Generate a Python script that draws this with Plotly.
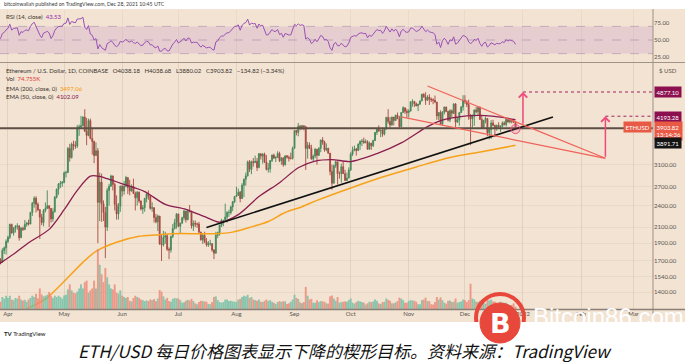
import numpy as np
import pandas as pd
import plotly.graph_objects as go

# ---------------- data ----------------
first_day = "2021-03-27"
last_day = "2021-12-28"

# closes before the visible window (only used to warm up the RSI)
warmup_close = [1570, 1490, 1575, 1540, 1530, 1655, 1725, 1835, 1870, 1795, 1825, 1770, 1925,
                1855, 1795, 1805, 1825, 1780, 1810, 1810, 1785, 1680, 1670, 1585, 1595, 1700]

close = [
    1715, 1690, 1815, 1845, 1920,
    1970, 2135, 2025, 2085, 2110, 2115, 1965, 2085, 2070, 2135, 2155, 2140, 2300, 2435, 2515,
    2420, 2340, 2235, 2160, 2330, 2360, 2400, 2360, 2210, 2310, 2530, 2660, 2750, 2760, 2775,
    2945, 2950, 3430, 3240, 3520, 3490, 3480, 3900, 3925, 3950, 4170, 3820, 3720, 4080, 3650,
    3580, 3280, 3380, 2450, 2780, 2430, 2300, 2100, 2640, 2710, 2890, 2740, 2420, 2280, 2390, 2710,
    2630, 2710, 2860, 2690, 2630, 2710, 2590, 2520, 2610, 2470, 2350, 2370, 2510, 2580, 2550,
    2360, 2370, 2230, 2170, 2250, 1890, 1880, 1970, 1990, 1830, 1820, 1980, 2080, 2160, 2280,
    2110, 2150, 2225, 2320, 2200, 2325, 2320, 2115, 2150, 2140, 2140, 2035, 1940, 1995, 1915,
    1880, 1895, 1895, 1820, 1785, 1995, 2030, 2125, 2190, 2190, 2235, 2300, 2300, 2380, 2460, 2540,
    2560, 2610, 2510, 2725, 2830, 2890, 3155, 3010, 3160, 3140, 3165, 3045, 3320, 3270, 3310,
    3150, 3010, 3020, 3180, 3290, 3230, 3240, 3325, 3175, 3230, 3100, 3275, 3245, 3225, 3225, 3435,
    3835, 3790, 3940, 3890, 3950, 3925, 3430, 3500, 3430, 3210, 3270, 3410, 3285, 3430, 3615,
    3570, 3400, 3435, 3330, 2970, 2760, 3080, 3155, 2930, 2930, 3060, 2930, 2810, 2850, 3000,
    3310, 3390, 3420, 3385, 3520, 3580, 3590, 3560, 3575, 3415, 3545, 3490, 3605, 3790, 3865,
    3830, 3845, 3750, 3880, 4160, 4060, 3970, 4170, 4085, 4220, 4130, 3930, 4290, 4420, 4325, 4290,
    4330, 4590, 4600, 4530, 4475, 4520, 4610, 4810, 4730, 4630, 4720, 4665, 4645, 4630, 4580,
    4200, 4290, 3990, 4300, 4440, 4320, 4090, 4340, 4270, 4525, 4040, 4100, 4290, 4440, 4630,
    4585, 4510, 4230, 4120, 4200, 4360, 4310, 4430, 4110, 3905, 4085, 4135, 3780, 3860, 4020,
    3960, 3880, 3960, 3925, 3940, 4020, 3980, 4110, 4045, 4095, 4065, 4038, 3903.82,
]

high = [
    1735, 1730, 1840, 1860, 1945,
    1990, 2145, 2145, 2100, 2125, 2150, 2125, 2100, 2105, 2195, 2170, 2200, 2310, 2455, 2545,
    2545, 2450, 2350, 2280, 2350, 2450, 2640, 2400, 2360, 2360, 2550, 2670, 2760, 2800, 2800,
    2970, 2985, 3460, 3530, 3560, 3600, 3590, 3970, 3980, 4200, 4190, 4380, 4150, 4130, 4130,
    3900, 3600, 3560, 3440, 2950, 2930, 2480, 2380, 2680, 2750, 2910, 2880, 2770, 2560, 2440, 2720,
    2730, 2800, 2890, 2860, 2820, 2740, 2840, 2620, 2630, 2620, 2480, 2410, 2520, 2600, 2640,
    2560, 2450, 2360, 2280, 2270, 2250, 2000, 2050, 2040, 2010, 1850, 1990, 2140, 2210, 2290,
    2280, 2160, 2240, 2340, 2320, 2350, 2410, 2320, 2190, 2190, 2160, 2170, 2040, 2010, 2040,
    1960, 1925, 1940, 1895, 1830, 2040, 2040, 2130, 2210, 2190, 2430, 2320, 2340, 2400, 2470, 2550,
    2700, 2670, 2630, 2760, 2840, 2950, 3180, 3190, 3180, 3230, 3280, 3230, 3330, 3320, 3330,
    3340, 3290, 3130, 3190, 3300, 3320, 3270, 3370, 3360, 3250, 3250, 3280, 3290, 3280, 3340, 3470,
    3840, 3840, 4020, 3970, 3970, 3960, 3950, 3570, 3560, 3510, 3300, 3440, 3420, 3460, 3620,
    3680, 3600, 3540, 3440, 3330, 3100, 3100, 3180, 3160, 2970, 3120, 3160, 3000, 2950, 3050,
    3350, 3470, 3490, 3440, 3540, 3610, 3640, 3670, 3630, 3610, 3580, 3550, 3620, 3800, 3900,
    3960, 3850, 3900, 3890, 4180, 4380, 4170, 4180, 4170, 4230, 4290, 4200, 4300, 4460, 4420, 4390,
    4380, 4600, 4660, 4600, 4570, 4530, 4630, 4820, 4840, 4868, 4780, 4810, 4710, 4690, 4770,
    4580, 4300, 4350, 4330, 4450, 4450, 4340, 4380, 4370, 4550, 4550, 4170, 4300, 4470, 4780,
    4780, 4630, 4650, 4240, 4240, 4370, 4440, 4440, 4460, 4230, 4100, 4190, 4140, 3880, 4090,
    4100, 3980, 3980, 4040, 3960, 4060, 4060, 4140, 4130, 4140, 4110, 4125, 4038.68,
]

low = [
    1670, 1665, 1680, 1775, 1770,
    1900, 1950, 2015, 1990, 2030, 2065, 1930, 1965, 2050, 2060, 2105, 2120, 2140, 2250, 2370,
    2300, 2320, 1950, 2125, 2110, 2300, 2350, 2100, 2160, 2170, 2300, 2510, 2570, 2680, 2700,
    2760, 2860, 2950, 3160, 3220, 3390, 3420, 3440, 3710, 3880, 3940, 3800, 3500, 3700, 3630,
    3300, 3130, 3280, 1900, 2180, 2170, 2180, 1730, 2050, 2400, 2700, 2640, 2330, 2200, 2200, 2310,
    2540, 2570, 2690, 2580, 2560, 2620, 2580, 2330, 2400, 2440, 2330, 2280, 2310, 2450, 2490,
    2340, 2310, 2160, 2150, 2050, 1880, 1700, 1860, 1890, 1810, 1720, 1790, 1960, 2070, 2080,
    2100, 2020, 2150, 2190, 2160, 2190, 2300, 2080, 2050, 2100, 2090, 2010, 1930, 1890, 1900,
    1860, 1855, 1870, 1800, 1720, 1780, 1960, 1990, 2100, 2110, 2180, 2160, 2240, 2270, 2320, 2440,
    2540, 2550, 2450, 2500, 2530, 2720, 2880, 2960, 2920, 3060, 3130, 2980, 3030, 3200, 3120,
    3130, 2990, 2950, 2950, 3150, 3210, 3150, 3230, 3150, 3100, 3060, 3080, 3220, 3160, 3200, 3200,
    3420, 3720, 3700, 3840, 3850, 3840, 3000, 3220, 3420, 3200, 3170, 3230, 3100, 3270, 3350,
    3510, 3360, 3370, 3320, 2900, 2650, 2760, 3040, 2740, 2840, 2770, 2930, 2800, 2800, 2850,
    2980, 3270, 3370, 3280, 3380, 3400, 3480, 3530, 3540, 3400, 3400, 3400, 3460, 3590, 3730,
    3800, 3680, 3690, 3720, 3850, 4000, 3900, 3950, 3960, 4070, 4120, 3880, 3920, 4290, 4250, 4150,
    4160, 4320, 4450, 4440, 4460, 4330, 4500, 4610, 4710, 4500, 4640, 4500, 4580, 4520, 4550,
    4100, 4090, 3970, 3950, 4240, 4300, 4060, 4040, 4170, 4250, 3920, 4030, 3950, 4280, 4340,
    4530, 4440, 4100, 3500, 3900, 3950, 4270, 4220, 4100, 3890, 3900, 4010, 3700, 3630, 3640,
    3940, 3680, 3830, 3900, 3800, 3910, 3960, 3930, 4030, 4010, 4010, 4030, 3880.02,
]

# daily volume, thousands of ETH
volume = [
    250, 230, 380, 330, 420,
    350, 420, 300, 280, 350, 330, 420, 300, 270, 290, 230, 300, 350, 420, 380,
    480, 340, 650, 460, 400, 420, 450, 540, 420, 350, 420, 380, 420, 380, 330,
    430, 450, 620, 780, 590, 520, 500, 550, 650, 780, 650, 850, 900, 520, 590,
    650, 900, 650, 1900, 1400, 1100, 850, 1300, 1000, 780, 650, 620, 780, 520, 490, 590,
    420, 380, 350, 380, 260, 240, 350, 420, 380, 350, 300, 280, 250, 270, 250,
    300, 280, 320, 250, 330, 600, 550, 400, 300, 350, 250, 230, 320, 350, 340,
    330, 280, 200, 210, 260, 290, 270, 320, 250, 180, 150, 220, 260, 250, 240,
    230, 160, 150, 220, 380, 400, 280, 220, 200, 220, 300, 300, 250, 260, 240, 230,
    230, 300, 320, 380, 420, 400, 450, 350, 380, 300, 280, 260, 300, 230, 220,
    260, 300, 250, 280, 230, 200, 160, 220, 250, 220, 250, 240, 160, 180, 230, 300,
    450, 350, 320, 210, 180, 220, 700, 420, 300, 320, 200, 200, 280, 220, 250,
    240, 230, 180, 170, 400, 430, 330, 260, 380, 200, 220, 230, 240, 230, 280,
    330, 200, 170, 220, 260, 240, 220, 200, 140, 180, 230, 220, 240, 300, 260,
    180, 160, 220, 230, 330, 290, 260, 180, 180, 210, 250, 360, 330, 280, 200, 200,
    250, 280, 270, 260, 230, 150, 150, 280, 300, 360, 250, 250, 150, 140, 220,
    380, 300, 370, 280, 200, 170, 260, 270, 220, 230, 330, 200, 220, 240, 300,
    280, 220, 280, 800, 330, 300, 230, 230, 260, 280, 200, 170, 330, 270, 300,
    240, 230, 180, 150, 230, 200, 180, 200, 150, 120, 130, 180, 75,
]

ema50_dates = ["2021-03-27", "2021-04-05", "2021-04-12", "2021-04-23", "2021-05-01", "2021-05-08",
               "2021-05-15", "2021-05-20", "2021-05-24", "2021-06-02", "2021-06-13", "2021-06-24",
               "2021-07-05", "2021-07-16", "2021-07-23", "2021-08-02", "2021-08-13", "2021-08-24",
               "2021-09-03", "2021-09-12", "2021-09-21", "2021-10-01", "2021-10-15", "2021-10-28",
               "2021-11-11", "2021-11-18", "2021-12-02", "2021-12-12", "2021-12-20", "2021-12-28"]
ema50_vals = [1665, 1790, 1905, 2070, 2340, 2640, 2885, 2880, 2840, 2740, 2620, 2420, 2345, 2230,
              2165, 2270, 2540, 2770, 3040, 3170, 3200, 3160, 3320, 3550, 3930, 4080, 4200, 4210,
              4170, 4102.09]

ema200_dates = ["2021-04-01", "2021-04-13", "2021-04-21", "2021-05-02", "2021-05-11", "2021-05-18",
                "2021-05-29", "2021-06-10", "2021-06-19", "2021-06-28", "2021-07-12", "2021-07-21",
                "2021-07-30", "2021-08-08", "2021-08-18", "2021-08-27", "2021-09-05", "2021-09-13",
                "2021-10-01", "2021-10-18", "2021-11-05", "2021-11-23", "2021-12-10", "2021-12-28"]
ema200_vals = [1185, 1275, 1340, 1515, 1685, 1805, 1910, 1982, 2000, 2015, 2015, 2015, 2035, 2095,
               2175, 2300, 2385, 2480, 2680, 2870, 3055, 3240, 3360, 3497.06]

# drawings
support_x = ["2021-07-16", "2022-01-17"]
support_y = [2094, 4173]
wedge_upper_x = ["2021-11-11", "2022-02-14"]
wedge_upper_y = [5062, 3225]
wedge_lower_x = ["2021-10-28", "2022-02-14"]
wedge_lower_y = [4175, 3225]
resistance_level = 3891.71
target1, target2 = 4877.10, 4193.28
arrow1_x, arrow1_base = "2022-01-01", 3966
arrow2_x, arrow2_base = "2022-02-14", 3225
marker_day, marker_price = "2021-12-28", 3870

month_ticks = ["2021-04-01", "2021-05-01", "2021-06-01", "2021-07-01", "2021-08-01", "2021-09-01",
               "2021-10-01", "2021-11-01", "2021-12-01", "2022-01-01", "2022-02-01", "2022-03-01"]
month_labels = ["Apr", "May", "Jun", "Jul", "Aug", "Sep", "Oct", "Nov", "Dec", "2022", "Feb", "Mar"]
price_ticks = [1400, 1540, 1700, 1900, 2100, 2400, 2700, 3100]
rsi_ticks = [25, 50, 75]

x_start, x_end = "2021-03-27 18:00", "2022-03-11 10:00"

# ---------------- derived ----------------
dates = pd.date_range(first_day, last_day, freq="D")
date_str = [d.strftime("%Y-%m-%d") for d in dates]
n = len(dates)
assert len(close) == n and len(high) == n and len(low) == n and len(volume) == n
open_ = [warmup_close[-1]] + close[:-1]


def wilder_rsi(values, period=14):
    out = [None] * len(values)
    gains, losses = [], []
    for i in range(1, len(values)):
        d = values[i] - values[i - 1]
        gains.append(max(d, 0.0))
        losses.append(max(-d, 0.0))
    ag = sum(gains[:period]) / period
    al = sum(losses[:period]) / period
    out[period] = 100 - 100 / (1 + ag / al) if al > 0 else 100
    for i in range(period + 1, len(values)):
        ag = (ag * (period - 1) + gains[i - 1]) / period
        al = (al * (period - 1) + losses[i - 1]) / period
        out[i] = 100 - 100 / (1 + ag / al) if al > 0 else 100
    return out


rsi_all = wilder_rsi(warmup_close + close)
rsi = rsi_all[len(warmup_close):]


def vol_segments(up):
    xs, ys = [], []
    for d, o, c, v in zip(date_str, open_, close, volume):
        if (c >= o) == up:
            xs += [d, d, None]
            ys += [0, v, None]
    return xs, ys


# ---------------- layout helpers (pixel -> paper) ----------------
W, H = 694, 362
PL, PR, PT, PB = 0, 653, 10, 309


def fx(p):
    return (p - PL) / (PR - PL)


def fy(p):
    return (PB - p) / (PB - PT)


BEIGE = "#f2e3d2"
FONT = "Lato, Noto Sans, sans-serif"

fig = go.Figure()

# RSI
fig.add_trace(go.Scatter(x=date_str, y=rsi, mode="lines", line=dict(color="#9a52b4", width=1),
                         xaxis="x", yaxis="y", hoverinfo="skip"))
# EMA lines
fig.add_trace(go.Scatter(x=ema200_dates, y=ema200_vals, mode="lines",
                         line=dict(color="#f7a21b", width=1.5, shape="spline", smoothing=0.8),
                         xaxis="x", yaxis="y2", hoverinfo="skip"))
fig.add_trace(go.Scatter(x=ema50_dates, y=ema50_vals, mode="lines",
                         line=dict(color="#8a1d4f", width=1.3, shape="spline", smoothing=0.8),
                         xaxis="x", yaxis="y2", hoverinfo="skip"))
# resistance line
fig.add_trace(go.Scatter(x=[x_start, x_end], y=[resistance_level, resistance_level], mode="lines",
                         line=dict(color="#5e4f45", width=2), xaxis="x", yaxis="y2", hoverinfo="skip"))
# candles
fig.add_trace(go.Candlestick(x=date_str, open=open_, high=high, low=low, close=close,
                             xaxis="x", yaxis="y2", whiskerwidth=0,
                             increasing=dict(line=dict(color="#43895a", width=0.9), fillcolor="#3b8653"),
                             decreasing=dict(line=dict(color="#a84a42", width=0.9), fillcolor="#a23a33"),
                             hoverinfo="skip"))
# trend / wedge lines
fig.add_trace(go.Scatter(x=support_x, y=support_y, mode="lines", line=dict(color="#111111", width=1.6),
                         xaxis="x", yaxis="y2", hoverinfo="skip"))
for wx, wy in [(wedge_upper_x, wedge_upper_y), (wedge_lower_x, wedge_lower_y)]:
    fig.add_trace(go.Scatter(x=wx, y=wy, mode="lines", line=dict(color="#f0625a", width=1.2),
                             xaxis="x", yaxis="y2", hoverinfo="skip"))
# target dotted lines
for tx, ty in [(arrow1_x, target1), (arrow2_x, target2)]:
    fig.add_trace(go.Scatter(x=[tx, x_end], y=[ty, ty], mode="lines",
                             line=dict(color="#a2235e", width=1, dash="dot"),
                             xaxis="x", yaxis="y2", hoverinfo="skip"))
# small circle marker
fig.add_trace(go.Scatter(x=[marker_day], y=[marker_price], mode="markers",
                         marker=dict(size=9, color="rgba(240,80,120,0.18)", line=dict(color="#ee4f7e", width=1)),
                         xaxis="x", yaxis="y2", hoverinfo="skip"))
# volume columns on a separate linear axis covering the main panel
for up, col in [(True, "#6fbfa6"), (False, "#ee8676")]:
    vx, vy = vol_segments(up)
    fig.add_trace(go.Scatter(x=vx, y=vy, mode="lines", line=dict(color=col, width=1.9),
                             xaxis="x", yaxis="y4", hoverinfo="skip", opacity=0.8))

grid = "rgba(140,110,80,0.08)"
axis_font = dict(family=FONT, size=6, color="#5a5550")

fig.update_layout(
    width=W, height=H,
    margin=dict(l=PL, r=W - PR, t=PT, b=H - PB),
    paper_bgcolor="white", plot_bgcolor="rgba(0,0,0,0)",
    showlegend=False,
    xaxis=dict(domain=[0, 1], anchor="y2", type="date", range=[x_start, x_end],
               tickmode="array", tickvals=month_ticks, ticktext=month_labels, tickfont=axis_font,
               showgrid=True, gridcolor=grid, gridwidth=1, zeroline=False, showline=False, ticks="",
               rangeslider=dict(visible=False)),
    yaxis=dict(domain=[fy(62), 1], range=[17.65, 94.1], side="right", anchor="x",
               tickmode="array", tickvals=rsi_ticks, ticktext=["%.2f" % v for v in rsi_ticks],
               tickfont=axis_font, showgrid=False, zeroline=False, ticks=""),
    yaxis2=dict(domain=[0, fy(63)], type="log", range=[3.1003, 3.7667], side="right", anchor="x",
                tickmode="array", tickvals=price_ticks, ticktext=["%.2f" % v for v in price_ticks],
                tickfont=axis_font, showgrid=True, gridcolor=grid, zeroline=False, ticks=""),
    yaxis4=dict(domain=[0, fy(63)], type="linear", range=[0, 7790], anchor="x", side="left",
                showticklabels=False, showgrid=False, zeroline=False, showline=False, ticks=""),
)

shapes = [
    dict(type="rect", xref="paper", yref="paper", x0=fx(0), x1=fx(685), y0=fy(322), y1=fy(9),
         fillcolor=BEIGE, line=dict(width=0), layer="below"),
    dict(type="rect", xref="paper", yref="y", x0=0, x1=1, y0=30, y1=70,
         fillcolor="rgba(165,70,200,0.14)", line=dict(width=0), layer="below"),
]
for lvl in [70, 50, 30]:
    shapes.append(dict(type="line", xref="paper", yref="y", x0=0, x1=1, y0=lvl, y1=lvl,
                       line=dict(color="rgba(150,110,160,0.55)", width=0.8, dash="dash"), layer="below"))
shapes += [
    dict(type="line", xref="paper", yref="paper", x0=0, x1=fx(685), y0=fy(62.5), y1=fy(62.5),
         line=dict(color="#a09489", width=1.2)),
    dict(type="line", xref="paper", yref="paper", x0=1, x1=1, y0=fy(322), y1=fy(9),
         line=dict(color="#9d9188", width=1)),
    dict(type="line", xref="paper", yref="paper", x0=0, x1=fx(685), y0=fy(309.5), y1=fy(309.5),
         line=dict(color="#8b8078", width=1.5)),
]


def circ(cx, cy, r):
    return dict(x0=fx(cx - r), x1=fx(cx + r), y0=fy(cy + r), y1=fy(cy - r))


# watermark logo
shapes.append(dict(type="circle", xref="paper", yref="paper", **circ(500, 318, 24),
                   line=dict(color="#e8473b", width=4), fillcolor="rgba(0,0,0,0)"))
shapes.append(dict(type="rect", xref="paper", yref="paper", x0=fx(470), x1=fx(530), y0=fy(345), y1=fy(322),
                   fillcolor="white", line=dict(width=0)))
shapes.append(dict(type="circle", xref="paper", yref="paper", **circ(500, 323, 20),
                   fillcolor="#e8473b", line=dict(color="#e8473b", width=1)))
fig.update_layout(shapes=shapes)

ann = []


def text(x, y, s, size=6, color="#3a3330", anchor="left", family=FONT, **kw):
    ann.append(dict(xref="paper", yref="paper", x=fx(x), y=fy(y), text=s, showarrow=False,
                    xanchor=anchor, yanchor="middle", font=dict(family=family, size=size, color=color), **kw))


text(2, 4, "bitcoinwallah published on TradingView.com, Dec 28, 2021 10:45 UTC", size=5.2, color="#3a3a3a")
text(4, 17, 'RSI (14, close)&nbsp;&nbsp;<span style="color:#9c27b0">43.53</span>', size=6)
text(4, 70, "Ethereum / U.S. Dollar, 1D, COINBASE&nbsp;&nbsp;&nbsp;O4038.18&nbsp;&nbsp;&nbsp;H4038.68&nbsp;&nbsp;&nbsp;"
            "L3880.02&nbsp;&nbsp;&nbsp;C3903.82&nbsp;&nbsp;&nbsp;\u2212134.82 (\u22123.34%)", size=6)
text(4, 79, 'Vol&nbsp;&nbsp;<span style="color:#e0403c">74.755K</span>', size=6)
text(4, 88, 'EMA (200, close, 0)&nbsp;&nbsp;<span style="color:#f59a0c">3497.06</span>', size=6)
text(4, 96, 'EMA (50, close, 0)&nbsp;&nbsp;<span style="color:#8a1450">4102.09</span>', size=6)
text(657, 70, "$ USD", size=6, color="#5a5550")

badge_font = dict(family=FONT, size=6, color="white")
for yv, s, bg in [(92, "4877.10", "#8c1050"), (117, "4193.28", "#8c1050"),
                  (131, "3903.82<br>13:14:36", "#e85a45"), (143, "3891.71", "#141414")]:
    ann.append(dict(xref="paper", yref="paper", x=fx(654), y=fy(yv), text=s, showarrow=False,
                    xanchor="left", yanchor="middle", font=badge_font, bgcolor=bg, borderpad=1.5, align="left"))
ann.append(dict(xref="paper", yref="paper", x=fx(652), y=fy(127), text="ETHUSD", showarrow=False,
                xanchor="right", yanchor="middle", font=badge_font, bgcolor="#e85a45", borderpad=1.5))

# arrows
for ax_, base, tgt in [(arrow1_x, arrow1_base, target1), (arrow2_x, arrow2_base, target2)]:
    ann.append(dict(xref="x", yref="y2", x=ax_, y=np.log10(tgt), axref="x", ayref="y2", ax=ax_,
                    ay=np.log10(base), text="", showarrow=True, arrowhead=4, arrowsize=1.1,
                    arrowwidth=1.5, arrowcolor="#f04a7c"))

# watermark text
text(500, 323, "<b>B</b>", size=27, color="white", anchor="center", family="DejaVu Sans")
text(608, 316, "Bitcoin86.com", size=24, color="white", anchor="center", family="Liberation Sans")

# footer
text(2, 333, "<b>TV</b> TradingView", size=6, color="#222")
text(345, 350, "<i>ETH/USD 每日价格图表显示下降的楔形目标。资料来源：TradingView</i>", size=17,
     color="#111", anchor="center", family="Noto Sans CJK SC")

fig.update_layout(annotations=ann)
fig.write_html("out.html")
